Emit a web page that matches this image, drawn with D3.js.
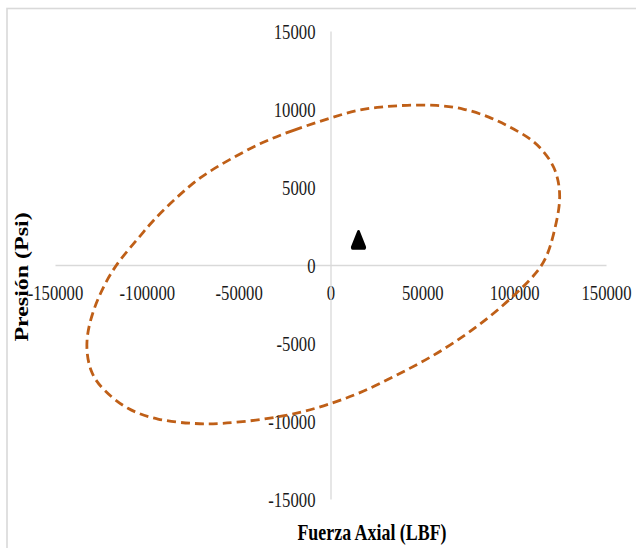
<!DOCTYPE html>
<html>
<head>
<meta charset="utf-8">
<script src="https://cdn.jsdelivr.net/npm/d3@7"></script>
<style>
  html, body { margin: 0; padding: 0; background: #fff; }
  svg { display: block; }
</style>
</head>
<body>
<svg id="chart" width="636" height="548"></svg>
<script>
// ---- Data ----
const xTicks = [-150000, -100000, -50000, 0, 50000, 100000, 150000];
const yTicks = [-15000, -10000, -5000, 0, 5000, 10000, 15000];

// Envelope (dashed closed curve): Fuerza Axial (LBF)
const envelopeX = [1400, -20400, -38400, -56400, -71100, -83600, -96600, -105400, -116300,
  -123900, -129900, -133700, -131000, -123900, -110800, -94500, -74900, -60100, -38400,
  -16600, 1400, 17700, 36200, 54200, 72100, 86800, 101500, 112400, 117900, 121200,
  124900, 124900, 122200, 115700, 108600, 97700, 86800, 72100, 57900, 41600, 26900, 14400];
// Envelope: Presión (Psi)
const envelopeY = [9480, 8650, 7820, 6670, 5640, 4360, 2880, 1600, 130,
  -1410, -3080, -5000, -6920, -8010, -9290, -9940, -10190, -10190, -9940,
  -9490, -8850, -8140, -7050, -5960, -4610, -3330, -1800, -510, 510, 1800,
  3720, 5000, 6280, 7370, 8140, 8850, 9490, 10060, 10260, 10260, 10130, 9940];

// Operating point
const pointX = [15250];
const pointY = [1450];

const xTitle = "Fuerza Axial (LBF)";
const yTitle = "Presión (Psi)";

// ---- Drawing ----
const svg = d3.select("#chart");
const FONT = "'Liberation Serif', 'Times New Roman', serif";
const SY = 1.26;

// chart border (light grey)
svg.append("rect")
  .attr("x", 7).attr("y", 8.5).attr("width", 640).attr("height", 560)
  .attr("fill", "none").attr("stroke", "#d9d9d9").attr("stroke-width", 1.6);

const x = d3.scaleLinear().domain([-150000, 150000]).range([55, 606]);
const y = d3.scaleLinear().domain([-15000, 15000]).range([499, 31]);

// x axis at y = 0
const gx = svg.append("g")
  .attr("transform", `translate(0,${y(0)})`)
  .call(d3.axisBottom(x).tickValues(xTicks).tickSize(0).tickSizeOuter(0)
        .tickFormat(d3.format("d")));
// y axis at x = 0
const gy = svg.append("g")
  .attr("transform", `translate(${x(0)},0)`)
  .call(d3.axisLeft(y).tickValues(yTicks).tickSize(0).tickSizeOuter(0)
        .tickFormat(d3.format("d")));

[gx, gy].forEach(g => {
  g.attr("font-family", null).attr("font-size", null);
  g.select(".domain").attr("stroke", "#d9d9d9").attr("stroke-width", 1.3);
});

gx.selectAll(".tick text")
  .attr("x", null).attr("y", null).attr("dy", null)
  .attr("text-anchor", "middle")
  .attr("transform", `translate(0,35) scale(1,${SY})`)
  .style("font-family", FONT).style("font-size", "16.7px").attr("fill", "#1a1a1a")
  .text(d => d3.format("d")(d).replace("−", "-"));

gy.selectAll(".tick text")
  .attr("x", null).attr("y", null).attr("dy", null)
  .attr("text-anchor", "end")
  .attr("transform", `translate(-15,7) scale(1,${SY})`)
  .style("font-family", FONT).style("font-size", "16.7px").attr("fill", "#1a1a1a")
  .text(d => d3.format("d")(d).replace("−", "-"));

// Envelope curve
const pts = envelopeX.map((v, i) => [v, envelopeY[i]]);
const line = d3.line()
  .x(d => x(d[0])).y(d => y(d[1]))
  .curve(d3.curveBasisClosed);
svg.append("path")
  .attr("d", line(pts))
  .attr("fill", "none")
  .attr("stroke", "#bf5f17")
  .attr("stroke-width", 2.8)
  .attr("stroke-dasharray", "9,5");

// Operating point marker (rounded triangle / teardrop)
const tri = d3.symbol().type(d3.symbolTriangle).size(62);
svg.selectAll(".pt").data(pointX.map((v, i) => [v, pointY[i]])).enter()
  .append("path")
  .attr("class", "pt")
  .attr("d", tri())
  .attr("transform", d => `translate(${x(d[0])},${y(d[1])}) scale(1,1.45)`)
  .attr("fill", "#000")
  .attr("stroke", "#000")
  .attr("stroke-width", 3.2)
  .attr("stroke-linejoin", "round");

// Axis titles
svg.append("text")
  .attr("transform", `translate(372,540) scale(1,${SY})`)
  .attr("text-anchor", "middle")
  .style("font-family", FONT).style("font-size", "17.9px").style("font-weight", "bold")
  .attr("fill", "#000")
  .text(xTitle);

svg.append("text")
  .attr("transform", `translate(28,277) rotate(-90) scale(${SY},1)`)
  .attr("text-anchor", "middle")
  .style("font-family", FONT).style("font-size", "19px").style("font-weight", "bold")
  .attr("fill", "#000")
  .text(yTitle);
</script>
</body>
</html>
